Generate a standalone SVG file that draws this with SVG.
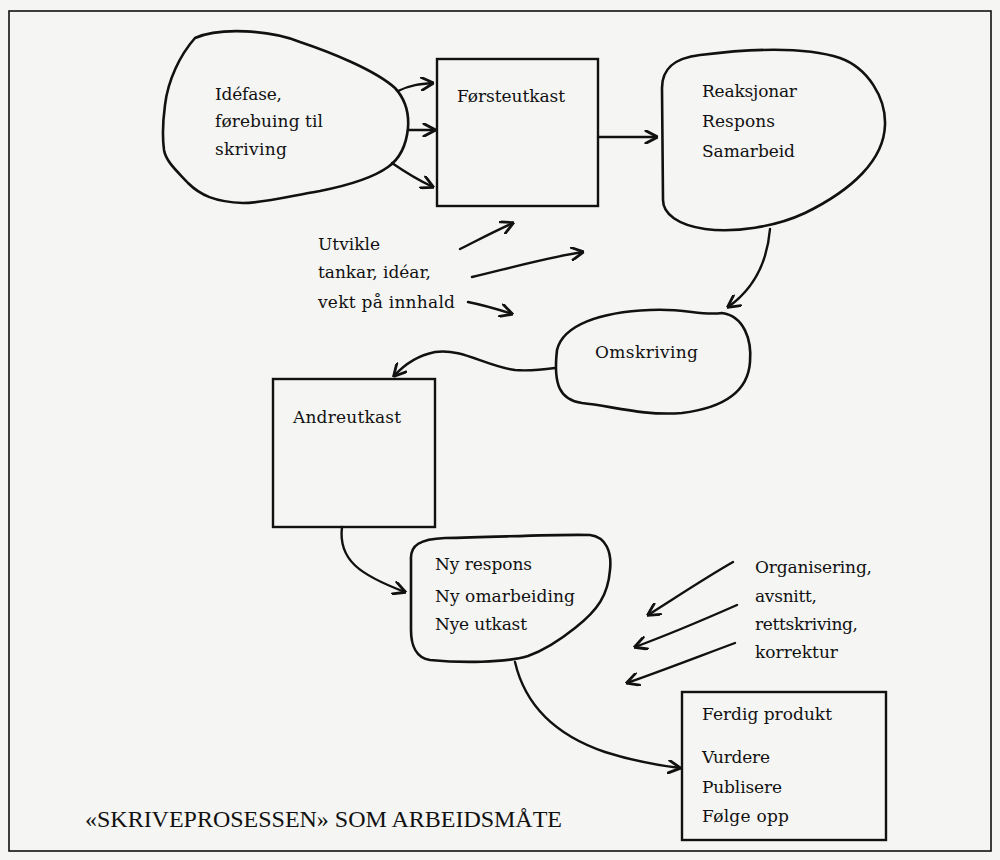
<svg xmlns="http://www.w3.org/2000/svg" width="1000" height="860" viewBox="0 0 1000 860">
<style>
.bg{fill:#f5f5f3}
.frame{fill:none;stroke:#111;stroke-width:1.6}
.shape{fill:#f5f5f3;stroke:#111;stroke-width:2.6;stroke-linejoin:round}
.box{fill:#f5f5f3;stroke:#111;stroke-width:2.4}
.conn{fill:none;stroke:#111;stroke-width:2.4;stroke-linecap:round;marker-end:url(#arr)}
.t{font-family:"DejaVu Serif","Liberation Serif",serif;font-size:17px;fill:#111}
.title{font-family:"Liberation Serif","Times New Roman",serif;font-size:24px;fill:#111}
</style>
<defs>
<marker id="arr" markerWidth="14" markerHeight="14" refX="9" refY="5" orient="auto" markerUnits="userSpaceOnUse" viewBox="0 0 10 10">
<path d="M1,0.5 L9.5,5 L1,9.5" fill="none" stroke="#111" stroke-width="2" stroke-linecap="round" stroke-linejoin="round"/>
</marker>
</defs>
<rect class="bg" x="0" y="0" width="1000" height="860"/>
<rect class="frame" x="9" y="11" width="982" height="840"/>

<g id="node-idefase">
<path class="shape" d="M195,38 C220,27 270,30 300,42 C330,52 375,70 395,88 C406,100 409,115 408,128 C406,148 398,160 388,167 C370,180 340,187 320,191 C290,196 265,203 243,203 C215,202 200,195 188,183 C178,172 166,162 164,150 C162,135 163,120 165,105 C168,80 180,55 195,38 Z"/>
<text class="t" x="215" y="100" textLength="67">Idéfase,</text>
<text class="t" x="215" y="127" textLength="108">førebuing til</text>
<text class="t" x="215" y="155" textLength="72">skriving</text>
</g>

<g id="node-forsteutkast">
<rect class="box" x="437" y="59" width="161" height="147"/>
<text class="t" x="457" y="102" textLength="108">Førsteutkast</text>
</g>

<g id="node-reaksjonar">
<path class="shape" d="M663,200 L662,88 C662,68 675,58 700,55 C740,50 800,45 840,58 C868,68 886,98 885,125 C884,160 852,190 805,213 C775,227 735,233 705,229 C678,225 663,214 663,200 Z"/>
<text class="t" x="702" y="97" textLength="95">Reaksjonar</text>
<text class="t" x="702" y="127" textLength="73">Respons</text>
<text class="t" x="702" y="157" textLength="93">Samarbeid</text>
</g>

<g id="node-utvikle">
<text class="t" x="318" y="250" textLength="62">Utvikle</text>
<text class="t" x="318" y="278" textLength="113">tankar, idéar,</text>
<text class="t" x="318" y="308" textLength="137">vekt på innhald</text>
</g>

<g id="node-omskriving">
<path class="shape" d="M557,350 C563,325 600,312 650,310 C685,308 700,316 722,313 C744,316 752,340 750,362 C748,392 722,408 682,413 C642,416 612,406 582,403 C560,400 553,385 557,350 Z"/>
<text class="t" x="595" y="358" textLength="103">Omskriving</text>
</g>

<g id="node-andreutkast">
<rect class="box" x="273" y="379" width="162" height="148"/>
<text class="t" x="293" y="423" textLength="108">Andreutkast</text>
</g>

<g id="node-nyrespons">
<path class="shape" d="M411,560 C410,545 420,539 445,538 C500,537 560,534 590,535 C606,537 612,552 610,570 C608,595 598,610 575,628 C560,640 545,650 528,656 C505,663 460,663 430,660 C416,658 411,645 411,630 Z"/>
<text class="t" x="435" y="570" textLength="97">Ny respons</text>
<text class="t" x="435" y="602" textLength="140">Ny omarbeiding</text>
<text class="t" x="435" y="630" textLength="92">Nye utkast</text>
</g>

<g id="node-organisering">
<text class="t" x="755" y="573" textLength="117">Organisering,</text>
<text class="t" x="755" y="602" textLength="62">avsnitt,</text>
<text class="t" x="755" y="630" textLength="103">rettskriving,</text>
<text class="t" x="755" y="658" textLength="83">korrektur</text>
</g>

<g id="node-ferdig">
<rect class="box" x="682" y="692" width="204" height="148"/>
<text class="t" x="702" y="720" textLength="130">Ferdig produkt</text>
<text class="t" x="702" y="763" textLength="68">Vurdere</text>
<text class="t" x="702" y="793" textLength="80">Publisere</text>
<text class="t" x="702" y="822" textLength="87">Følge opp</text>
</g>

<g id="node-title">
<text class="title" x="85" y="827" textLength="477">«SKRIVEPROSESSEN» SOM ARBEIDSMÅTE</text>
</g>

<g id="connectors">
<path class="conn" d="M398,91 C410,85 420,84 433,83"/>
<path class="conn" d="M408,130 L435,130"/>
<path class="conn" d="M392,163 C405,172 418,180 433,187"/>
<path class="conn" d="M598,137 L657,137"/>
<path class="conn" d="M460,249 C478,240 495,231 513,223"/>
<path class="conn" d="M472,277 C510,268 545,258 583,252"/>
<path class="conn" d="M468,302 C483,305 497,309 512,314"/>
<path class="conn" d="M770,229 C767,265 752,290 728,307"/>
<path class="conn" d="M555,368 C540,370 528,371 515,370 C485,366 462,348 435,352 C415,356 403,366 394,376"/>
<path class="conn" d="M342,527 C338,560 360,575 405,592"/>
<path class="conn" d="M733,562 C705,578 675,598 648,615"/>
<path class="conn" d="M737,605 C703,620 670,634 635,647"/>
<path class="conn" d="M735,643 C700,656 664,670 627,683"/>
<path class="conn" d="M515,662 C525,705 555,735 605,752 C630,760 655,765 680,768"/>
</g>
</svg>
